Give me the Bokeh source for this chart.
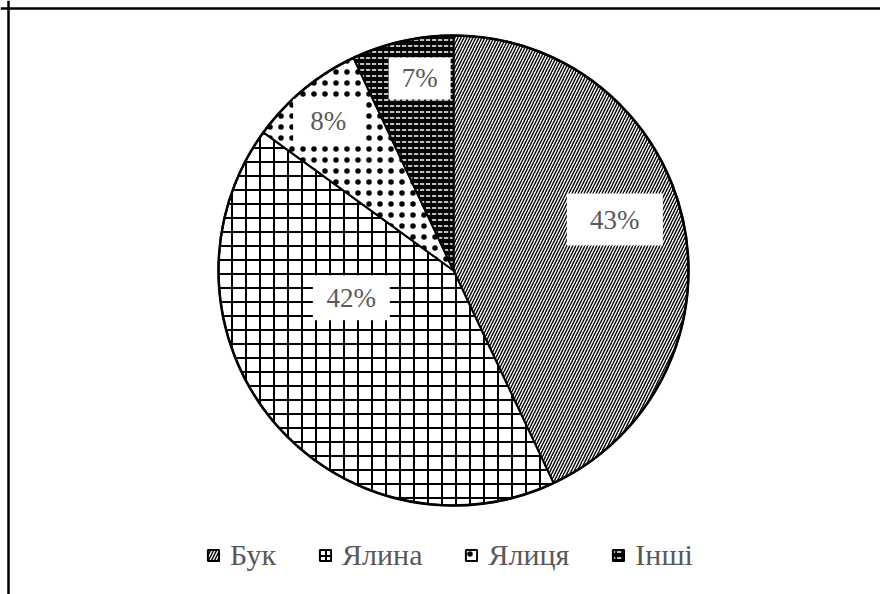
import numpy as np
from bokeh.plotting import figure
from bokeh.models import Range1d, Legend, LegendItem, Span
from bokeh.core.properties import value
from bokeh.embed import file_html
from bokeh.resources import INLINE

# ---- data ----
species = ["Бук", "Ялина", "Ялиця", "Інші"]
shares = [43, 42, 8, 7]
label_texts = ["43%", "42%", "8%", "7%"]

# ---- layout ----
W, H = 880, 594
FONT = "Liberation Serif"
p = figure(width=W, height=H, x_range=Range1d(0, W), y_range=Range1d(0, H),
           output_backend="svg", toolbar_location=None, min_border=0,
           x_axis_location=None, y_axis_location=None)
p.grid.visible = False
p.outline_line_color = None
p.background_fill_color = "white"
p.border_fill_color = "white"

cx, cy, R = 453, 324, 235
frac = np.array(shares, dtype=float) / sum(shares)
cum = np.concatenate([[0.0], np.cumsum(frac)])
starts = np.pi / 2 - 2 * np.pi * cum[:-1]
ends = np.pi / 2 - 2 * np.pi * cum[1:]

styles = [
    dict(fill_color="white", hatch_pattern="/", hatch_color="black", hatch_scale=6, hatch_weight=1.4),
    dict(fill_color="white", hatch_pattern="+", hatch_color="black", hatch_scale=14, hatch_weight=2),
    dict(fill_color="white", hatch_pattern=".", hatch_color="black", hatch_scale=11, hatch_weight=1),
    dict(fill_color="black", hatch_pattern='"', hatch_color="white", hatch_scale=6, hatch_weight=1.5),
]

items = []
for i, name in enumerate(species):
    r = p.wedge(x=cx, y=cy, radius=R, start_angle=starts[i], end_angle=ends[i],
                direction="clock", line_color="black", line_width=2, **styles[i])
    items.append(LegendItem(label=name, renderers=[r]))

p.circle(x=cx, y=cy, radius=R, fill_color=None, line_color="black", line_width=2.5)

# data labels: placement angle (clockwise from top, deg) and radius fraction
label_deg = [72.5, 255, 320, 350]
label_rf = [0.72, 0.45, 0.83, 0.83]
box_w = [96, 77, 70, 62]
box_h = [52, 45, 44, 42]
lx = [cx + R * label_rf[i] * np.sin(np.deg2rad(label_deg[i])) for i in range(len(shares))]
ly = [cy + R * label_rf[i] * np.cos(np.deg2rad(label_deg[i])) for i in range(len(shares))]
p.rect(x=lx, y=ly, width=box_w, height=box_h, width_units="screen", height_units="screen",
       fill_color="white", line_color=None)
p.text(x=lx, y=ly, text=label_texts, text_align="center", text_baseline="middle",
       text_font=value(FONT), text_font_size="27px", text_color="#595959")

# chart border (top/left visible)
p.add_layout(Span(location=H - 8, dimension="width", line_color="black", line_width=2.5))
p.add_layout(Span(location=8, dimension="height", line_color="black", line_width=2.5))

legend = Legend(items=items, orientation="horizontal", location=(206, 22),
                border_line_color=None, background_fill_alpha=0,
                label_text_font=FONT, label_text_font_size="30px",
                label_text_color="#595959", glyph_width=14, glyph_height=14,
                spacing=42, label_standoff=10, padding=0, margin=0)
p.add_layout(legend)

open("out.html", "w").write(file_html(p, INLINE))
